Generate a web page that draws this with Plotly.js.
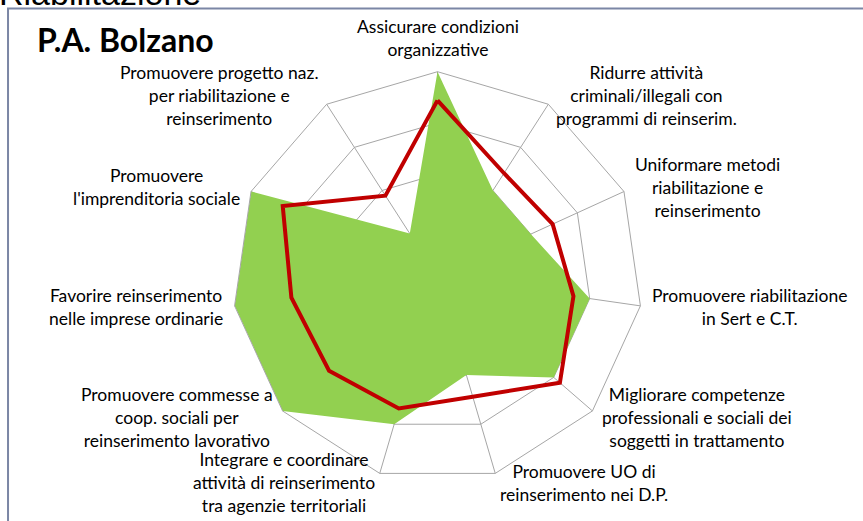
<!DOCTYPE html>
<html>
<head>
<meta charset="utf-8">
<script src="https://cdn.plot.ly/plotly-3.0.1.min.js"></script>
<style>
  html, body { margin: 0; padding: 0; background: #ffffff; }
  #myPlot { width: 863px; height: 521px; }
</style>
</head>
<body>
<div id="myPlot"></div>
<script>
// categories, clockwise from the top
var categoryLabels = [
	"Assicurare condizioni<br>organizzative",
	"Ridurre attività<br>criminali/illegali con<br>programmi di reinserim.",
	"Uniformare metodi<br>riabilitazione e<br>reinserimento",
	"Promuovere riabilitazione<br>in Sert e C.T.",
	"Migliorare competenze<br>professionali e sociali dei<br>soggetti in trattamento",
	"Promuovere UO di<br>reinserimento nei D.P.",
	"Integrare e coordinare<br>attività di reinserimento<br>tra agenzie territoriali",
	"Promuovere commesse a<br>coop. sociali per<br>reinserimento lavorativo",
	"Favorire reinserimento<br>nelle imprese ordinarie",
	"Promuovere<br>l'imprenditoria sociale",
	"Promuovere progetto naz.<br>per riabilitazione e<br>reinserimento"
];

// P.A. Bolzano (green area)
var bolzanoValues = [4, 2, 2, 3, 3, 2, 3, 4, 4, 4, 1];
// reference line (red)
var mediaValues = [3.44, 2.40, 2.47, 2.68, 3.16, 2.44, 2.68, 2.80, 2.88, 3.32, 1.88];

var W = 863, H = 521;
// polar chart placement (pixels)
var cx = 437.5, cy = 276.7, R = 205, labelPad = 10;

function closeLoop(arr){
	return arr.concat([arr[0]]);
}

var catIds = categoryLabels.map(function(c, i){ return i; });

var traceArea = {
	type: 'scatterpolar',
	r: closeLoop(bolzanoValues),
	theta: closeLoop(catIds),
	mode: 'none',
	fill: 'toself',
	fillcolor: '#92d050',
	name: 'P.A. Bolzano',
	hoverinfo: 'skip'
};

var traceLine = {
	type: 'scatterpolar',
	r: closeLoop(mediaValues),
	theta: closeLoop(catIds),
	mode: 'lines',
	line: {color: '#c00000', width: 4},
	name: 'Media',
	hoverinfo: 'skip'
};

// category labels placed just outside each spoke, centred text
var labelAnnotations = [];
for(var i = 0; i < categoryLabels.length; i++){
	var ang = i * 2 * Math.PI / categoryLabels.length;
	var s = Math.sin(ang), c = -Math.cos(ang);
	var px = cx + (R + labelPad) * s;
	var py = cy + (R + labelPad) * c;
	labelAnnotations.push({
		text: categoryLabels[i],
		xref: 'paper', yref: 'paper',
		x: px / W, y: 1 - py / H,
		xanchor: Math.abs(s) < 0.15 ? 'center' : (s > 0 ? 'left' : 'right'),
		yanchor: c < -0.99 ? 'bottom' : (c > 0.99 ? 'top' : 'middle'),
		align: 'center',
		showarrow: false,
		font: {family: 'Lato, sans-serif', size: 17.5, color: '#000000'}
	});
}

var plotLayout = {
	width: W,
	height: H,
	margin: {l: 0, r: 0, t: 0, b: 0},
	paper_bgcolor: '#ffffff',
	showlegend: false,
	font: {family: 'Lato, "Open Sans", sans-serif', size: 14, color: '#000000'},
	polar: {
		domain: {x: [(cx - R) / W, (cx + R) / W], y: [1 - (cy + R) / H, 1 - (cy - R) / H]},
		gridshape: 'linear',
		bgcolor: 'rgba(0,0,0,0)',
		radialaxis: {
			range: [0, 4],
			dtick: 1,
			showticklabels: false,
			ticks: '',
			showline: false,
			gridcolor: '#a6a6a6',
			gridwidth: 1
		},
		angularaxis: {
			type: 'category',
			categoryarray: catIds,
			showticklabels: false,
			rotation: 90,
			direction: 'clockwise',
			ticks: '',
			linecolor: '#a6a6a6',
			linewidth: 1,
			gridcolor: '#a6a6a6',
			gridwidth: 1
		}
	},
	annotations: [
		{
			text: 'Riabilitazione',
			xref: 'paper', yref: 'paper',
			x: -0.003, y: 1.0134,
			xanchor: 'left', yanchor: 'middle',
			showarrow: false,
			font: {family: '"Liberation Sans", Arial, sans-serif', size: 34, color: '#000000'}
		},
		{
			text: '<b>P.A. Bolzano</b>',
			xref: 'paper', yref: 'paper',
			x: 0.041, y: 0.9245,
			xanchor: 'left', yanchor: 'middle',
			showarrow: false,
			font: {family: 'Lato, sans-serif', size: 32, color: '#000000'}
		}
	].concat(labelAnnotations),
	shapes: [
		{
			type: 'rect',
			xref: 'paper', yref: 'paper',
			x0: 0.0093, x1: 1.05,
			y0: -0.05, y1: 0.9837,
			line: {color: '#7b86a5', width: 2},
			fillcolor: 'rgba(0,0,0,0)',
			layer: 'below'
		}
	]
};

var myPlot = document.getElementById('myPlot');
Plotly.newPlot(myPlot, [traceArea, traceLine], plotLayout, {displayModeBar: false, staticPlot: true});
</script>
</body>
</html>
